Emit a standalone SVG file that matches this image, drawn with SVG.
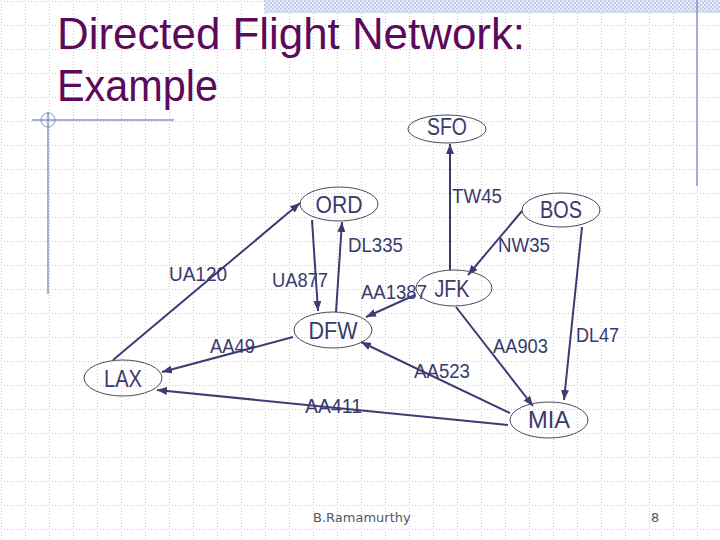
<svg xmlns="http://www.w3.org/2000/svg" width="720" height="540" viewBox="0 0 720 540">
<defs>
<pattern id="grid" x="1" y="1" width="24" height="24" patternUnits="userSpaceOnUse">
<path d="M0,0.5 H24 M0.5,0 V24" stroke="#cbcbcb" stroke-width="1" stroke-dasharray="1,2" fill="none"/>
</pattern>
<pattern id="check" x="0" y="0" width="4" height="4" patternUnits="userSpaceOnUse">
<rect width="4" height="4" fill="#e6ebf7"/>
<rect width="2" height="2" fill="#c3cde9"/>
<rect x="2" y="2" width="2" height="2" fill="#c3cde9"/>
</pattern>
<marker id="arr" viewBox="0 0 10 8" refX="10" refY="4" markerWidth="10" markerHeight="8" markerUnits="userSpaceOnUse" orient="auto">
<path d="M0,0 L10,4 L0,8 z" fill="#3c3c74"/>
</marker>
<style>
.node ellipse{fill:none;stroke:#4a4a5a;stroke-width:1}
.node text{font-family:"Liberation Sans Narrow","Liberation Sans",Arial,sans-serif;font-size:24px;fill:#3a3a6c;text-anchor:middle}
.edge line{stroke:#3c3c74;stroke-width:2;marker-end:url(#arr)}
.lbl{font-family:"Liberation Sans Narrow","Liberation Sans",Arial,sans-serif;font-size:20px;fill:#3a3a6c}
.deco{stroke:#8494c4;stroke-width:1.5;fill:none}
.title{font-family:"Liberation Sans",Arial,sans-serif;font-size:44px;fill:#5c0a5c}
.foot{font-family:"DejaVu Sans",sans-serif;font-size:13px;fill:#555566}
</style>
</defs>
<rect width="720" height="540" fill="#ffffff"/>
<rect width="720" height="540" fill="url(#grid)"/>
<rect x="264" y="0" width="456" height="13" fill="url(#check)"/>
<g id="decoration">
<line class="deco" x1="697" y1="0" x2="697" y2="186"/>
<line class="deco" x1="32" y1="120" x2="174" y2="120"/>
<line class="deco" x1="48" y1="112" x2="48" y2="294"/>
<circle cx="48" cy="120" r="7" stroke="#8494c4" stroke-width="1" fill="none"/>
</g>
<g id="title">
<text class="title" x="57" y="49" textLength="468" lengthAdjust="spacingAndGlyphs">Directed Flight Network:</text>
<text class="title" x="57" y="101" textLength="161" lengthAdjust="spacingAndGlyphs">Example</text>
</g>
<g id="connectors">
<g class="edge" id="e-TW45"><line x1="450" y1="270" x2="450" y2="144"/><text class="lbl" x="452" y="203" textLength="50" lengthAdjust="spacingAndGlyphs">TW45</text></g>
<g class="edge" id="e-NW35"><line x1="522" y1="211" x2="468" y2="275"/><text class="lbl" x="498" y="252" textLength="52" lengthAdjust="spacingAndGlyphs">NW35</text></g>
<g class="edge" id="e-DL335"><line x1="336" y1="312" x2="342" y2="222"/><text class="lbl" x="348" y="252" textLength="55" lengthAdjust="spacingAndGlyphs">DL335</text></g>
<g class="edge" id="e-UA877"><line x1="312" y1="220" x2="318" y2="311"/><text class="lbl" x="272" y="287" textLength="56" lengthAdjust="spacingAndGlyphs">UA877</text></g>
<g class="edge" id="e-UA120"><line x1="113" y1="360" x2="300" y2="203"/><text class="lbl" x="169" y="281" textLength="58" lengthAdjust="spacingAndGlyphs">UA120</text></g>
<g class="edge" id="e-AA49"><line x1="293" y1="337" x2="162" y2="372"/><text class="lbl" x="210" y="353" textLength="45" lengthAdjust="spacingAndGlyphs">AA49</text></g>
<g class="edge" id="e-AA411"><line x1="508" y1="425" x2="157" y2="390"/><text class="lbl" x="305" y="413" textLength="57" lengthAdjust="spacingAndGlyphs">AA411</text></g>
<g class="edge" id="e-AA1387"><line x1="415" y1="295" x2="366" y2="317"/><text class="lbl" x="361" y="299" textLength="66" lengthAdjust="spacingAndGlyphs">AA1387</text></g>
<g class="edge" id="e-AA523"><line x1="510" y1="413" x2="361" y2="342"/><text class="lbl" x="414" y="378" textLength="56" lengthAdjust="spacingAndGlyphs">AA523</text></g>
<g class="edge" id="e-AA903"><line x1="456" y1="307" x2="533" y2="406"/><text class="lbl" x="493" y="353" textLength="55" lengthAdjust="spacingAndGlyphs">AA903</text></g>
<g class="edge" id="e-DL47"><line x1="582" y1="227" x2="564" y2="400"/><text class="lbl" x="576" y="342" textLength="43" lengthAdjust="spacingAndGlyphs">DL47</text></g>
</g>
<g class="node" id="SFO"><ellipse cx="447" cy="129" rx="39" ry="14"/><text x="447" y="135" textLength="40" lengthAdjust="spacingAndGlyphs">SFO</text></g>
<g class="node" id="ORD"><ellipse cx="339" cy="204" rx="39" ry="17"/><text x="339" y="213" textLength="47" lengthAdjust="spacingAndGlyphs">ORD</text></g>
<g class="node" id="BOS"><ellipse cx="561" cy="210" rx="39" ry="17"/><text x="561" y="218" textLength="42" lengthAdjust="spacingAndGlyphs">BOS</text></g>
<g class="node" id="JFK"><ellipse cx="454" cy="288" rx="38" ry="18"/><text x="452" y="297" textLength="35" lengthAdjust="spacingAndGlyphs">JFK</text></g>
<g class="node" id="DFW"><ellipse cx="333" cy="330" rx="39" ry="18"/><text x="333" y="339" textLength="49" lengthAdjust="spacingAndGlyphs">DFW</text></g>
<g class="node" id="LAX"><ellipse cx="123" cy="378" rx="39" ry="18"/><text x="123" y="387" textLength="38" lengthAdjust="spacingAndGlyphs">LAX</text></g>
<g class="node" id="MIA"><ellipse cx="549" cy="420" rx="39" ry="18"/><text x="549" y="428" textLength="42" lengthAdjust="spacingAndGlyphs">MIA</text></g>
<g id="footer">
<text class="foot" x="313" y="522">B.Ramamurthy</text>
<text class="foot" x="651" y="522">8</text>
</g>
</svg>
